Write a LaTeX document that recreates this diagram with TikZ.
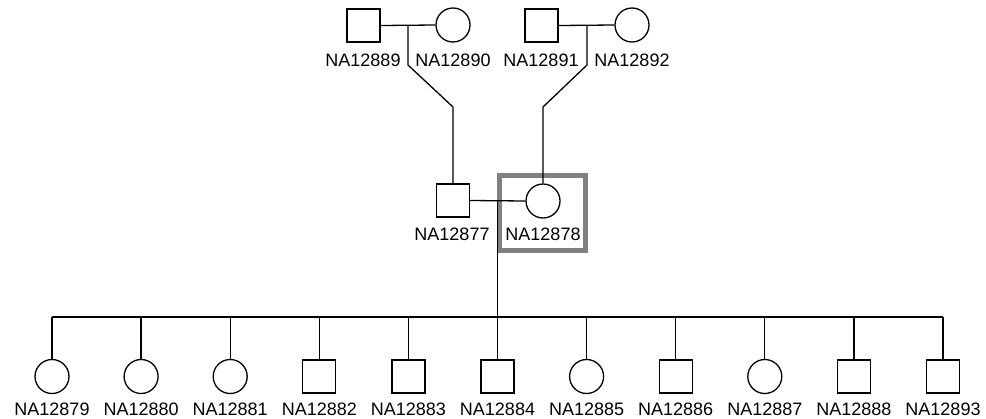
\documentclass[tikz,border=0pt]{standalone}
\usepackage{fontspec}
\setmainfont{Liberation Sans}
\begin{document}
\begin{tikzpicture}[x=1pt,y=-1pt,
  male/.style={draw, rectangle, minimum size=33pt, inner sep=0pt, line width=1.3pt},
  female/.style={draw, circle, minimum size=34pt, inner sep=0pt, line width=1.3pt},
  lbl/.style={font=\fontsize{18}{20}\selectfont, inner sep=0pt},
  rel/.style={line width=1.3pt},
  hilite/.style={draw=gray, line width=5pt, minimum width=86pt, minimum height=75pt, inner sep=0pt}]
\useasboundingbox (0,0) rectangle (986,418);
% grandparents
\node[male]   (m1) at (363.5,25.5) {};
\node[female] (f1) at (453,25) {};
\node[male]   (m2) at (541.5,25.5) {};
\node[female] (f2) at (632,25) {};
\node[lbl] (l1) at (363,60.5) {NA12889};
\node[lbl] (l2) at (453,60.5) {NA12890};
\node[lbl] (l3) at (541,60.5) {NA12891};
\node[lbl] (l4) at (632,60.5) {NA12892};
% parents
\node[male]   (m3) at (453,200.5) {};
\node[female] (f3) at (543,201) {};
\node[lbl] (l5) at (452,234.5) {NA12877};
\node[lbl] (l6) at (543,234.5) {NA12878};
\node[hilite] (hl) at (542,212.5) {};
% marriage lines
\draw[rel] (m1.east) -- (f1.west) coordinate[pos=0.5] (d1x);
\draw[rel] (m2.east) -- (f2.west);
\draw[rel] (m3.east) -- (f3.west);
\coordinate (d1) at (408,25);
\coordinate (k1) at (408,65);
\coordinate (k2) at (453,107);
\coordinate (d2) at (587,25);
\coordinate (k3) at (587,65);
\coordinate (k4) at (543,107);
\draw[rel] (d1) -- (k1) -- (k2) -- (m3.north);
\draw[rel] (d2) -- (k3) -- (k4) -- (f3.north);
% children
\coordinate (d3) at (497.5,201);
\coordinate (s0) at (52,317);
\coordinate (s1) at (943,317);
\draw[rel] (d3) -- (d3 |- s0);
\draw[rel] (s0) -- (s1);
\foreach \i/\t/\n in {0/female/NA12879,1/female/NA12880,2/female/NA12881,3/male/NA12882,4/male/NA12883,5/male/NA12884,6/female/NA12885,7/male/NA12886,8/female/NA12887,9/male/NA12888,10/male/NA12893}{
  \node[\t] (c\i) at ({52+89.1*\i},376.5) {};
  \node[lbl] (t\i) at ({52+89.1*\i},409) {\n};
  \draw[rel] (c\i.north |- s0) -- (c\i.north);
}
\end{tikzpicture}
\end{document}
